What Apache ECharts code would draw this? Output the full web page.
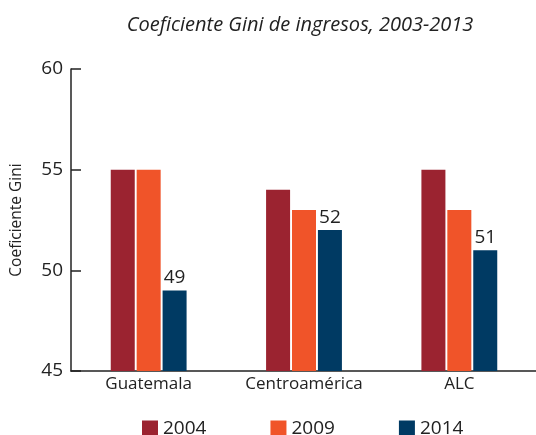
<!DOCTYPE html>
<html>
<head>
<meta charset="utf-8">
<script src="https://cdn.jsdelivr.net/npm/echarts@6/dist/echarts.min.js"></script>
<style>
  html, body { margin: 0; padding: 0; background: #fff; }
  #main { width: 536px; height: 435px; }
</style>
</head>
<body>
<div id="main"></div>
<script>
// datos
var categorias = ["Guatemala", "Centroamérica", "ALC"];
var anios = ["2004", "2009", "2014"];
var gini2004 = [55, 54, 55];
var gini2009 = [55, 53, 53];
var gini2014 = [49, 52, 51];
var colores = ["#9b2330", "#f05429", "#003a63"];

var fuente = "Open Sans";
var chart = echarts.init(document.getElementById("main"));

function serie(nombre, datos, color, etiqueta) {
  return {
    name: nombre,
    type: "bar",
    data: datos,
    barWidth: 24,
    barGap: "8%",
    itemStyle: { color: color },
    label: {
      show: etiqueta,
      position: "top",
      distance: 3,
      color: "#222",
      fontSize: 19,
      fontFamily: fuente
    }
  };
}

chart.setOption({
  animation: false,
  title: {
    text: "Coeficiente Gini de ingresos, 2003-2013",
    left: 295,
    textAlign: "center",
    top: 10,
    textStyle: {
      fontFamily: fuente,
      fontStyle: "italic",
      fontWeight: "normal",
      fontSize: 20,
      color: "#222"
    }
  },
  legend: {
    data: anios,
    bottom: -8,
    left: 137,
    itemWidth: 16,
    itemHeight: 16,
    itemGap: 64,
    icon: "rect",
    textStyle: { fontFamily: fuente, fontSize: 19, color: "#222" }
  },
  grid: { left: 71, right: -1, top: 69, bottom: 64, outerBoundsMode: "none" },
  xAxis: {
    type: "category",
    data: categorias,
    axisLine: { lineStyle: { color: "#222", width: 1.5 } },
    axisTick: { inside: true, length: 5, lineStyle: { color: "#222" } },
    axisLabel: { fontFamily: fuente, fontSize: 17, color: "#222", margin: 5 }
  },
  yAxis: {
    type: "value",
    min: 45,
    max: 60,
    interval: 5,
    name: "Coeficiente Gini",
    nameLocation: "middle",
    nameGap: 46,
    nameTextStyle: { fontFamily: fuente, fontSize: 15.5, color: "#222" },
    axisLine: { show: true, lineStyle: { color: "#222", width: 1.5 } },
    axisTick: { show: true, inside: true, length: 10, lineStyle: { color: "#222", width: 1.5 } },
    axisLabel: { fontFamily: fuente, fontSize: 19, color: "#222", margin: 8 },
    splitLine: { show: false }
  },
  series: [
    serie("2004", gini2004, colores[0], false),
    serie("2009", gini2009, colores[1], false),
    serie("2014", gini2014, colores[2], true)
  ]
});
</script>
</body>
</html>
